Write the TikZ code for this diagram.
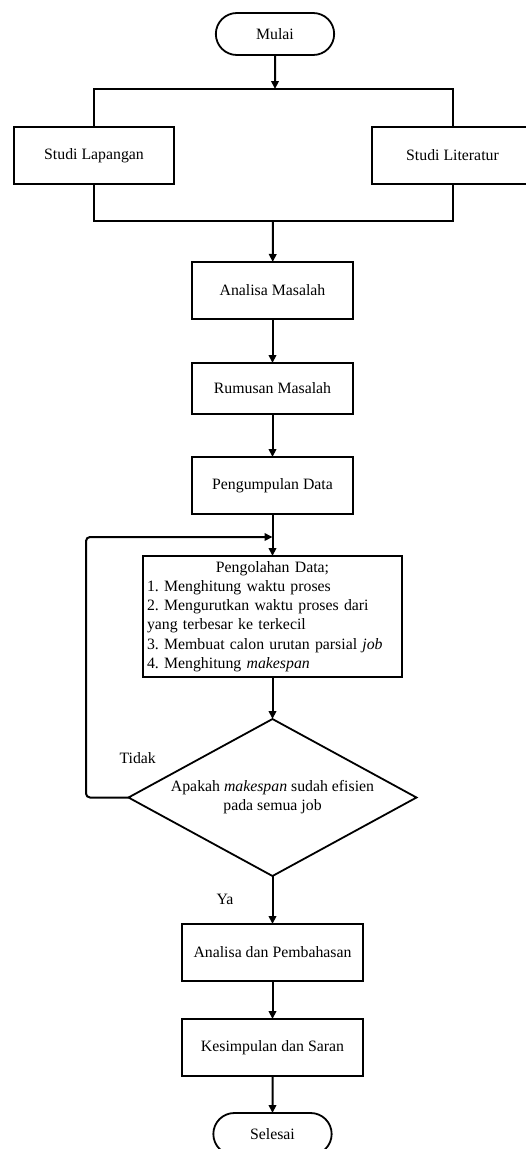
\documentclass[tikz,border=0pt]{standalone}
\usepackage{fontspec}
\setmainfont{Liberation Serif}
\usetikzlibrary{positioning,shapes,arrows.meta,calc}
\frenchspacing

\begin{document}
\begin{tikzpicture}[x=1pt,y=-1pt,>={Triangle[length=8pt,width=7.5pt]}]
\tikzset{
    every node/.style={font=\fontsize{15.8}{19.2}\selectfont},
    process/.style={rectangle, draw=black, line width=1.8pt, outer sep=0pt, minimum height=57pt, inner sep=4pt, text centered},
    terminal/.style={rounded rectangle, draw=black, line width=1.8pt, outer sep=0pt, minimum width=125pt, minimum height=42pt},
    decision/.style={diamond, draw=black, line width=1.8pt, outer sep=0pt, aspect=1.834, inner sep=0pt, minimum width=288pt, minimum height=157pt, align=center},
    line/.style={line width=2pt}
}
\useasboundingbox (0,0) rectangle (525,1149);

\node[terminal] (mulai) at (275,34) {Mulai};
\node[process, minimum width=160pt] (lapangan) at (94,155.5) {Studi Lapangan};
\node[process, minimum width=161pt] (literatur) at (452.5,155.5) {Studi Literatur};
\node[process, minimum width=161pt] (analisa) at (272.5,290.5) {Analisa Masalah};
\node[process, minimum width=161pt, minimum height=51pt, below=44pt of analisa] (rumusan) {Rumusan Masalah};
\node[process, minimum width=161pt, below=43pt of rumusan] (pengumpulan) {Pengumpulan Data};
\node[process, text width=251pt, minimum height=121pt, inner ysep=2pt, align=left, below=42pt of pengumpulan] (pengolahan) {\makebox[251pt][c]{Pengolahan Data;}\\
1. Menghitung waktu proses\\
2. Mengurutkan waktu proses dari\\
yang terbesar ke terkecil\\
3. Membuat calon urutan parsial \textit{job}\\
4. Menghitung \textit{makespan}};
\node[decision, below=42pt of pengolahan] (keputusan) {Apakah \textit{makespan} sudah efisien\\pada semua job};
\node[process, minimum width=181pt, below=48pt of keputusan] (pembahasan) {Analisa dan Pembahasan};
\node[process, minimum width=181pt, below=38pt of pembahasan] (kesimpulan) {Kesimpulan dan Saran};
\node[terminal, below=37pt of kesimpulan] (selesai) {Selesai};

\node[anchor=west] (tidak) at (116,758) {Tidak};
\node[anchor=west] (ya) at (213,899) {Ya};

\coordinate (cabang) at (275,89);
\coordinate (gabung) at (273,221);
\coordinate (kiri) at (86,537);
\coordinate (masuk) at (272.5,537);

\draw[line,->] (mulai) -- (cabang);
\draw[line] (lapangan.north) |- (literatur.north |- cabang) -- (literatur.north);
\draw[line] (lapangan.south) |- (literatur.south |- gabung) -- (literatur.south);
\draw[line,->] (gabung) -- (analisa);
\draw[line,->] (analisa) -- (rumusan);
\draw[line,->] (rumusan) -- (pengumpulan);
\draw[line,->] (pengumpulan) -- (pengolahan);
\draw[line,->] (pengolahan) -- (keputusan);
\draw[line,->,rounded corners=4pt] (keputusan.west) -- (keputusan.west -| kiri) -- (kiri) -- (masuk);
\draw[line,->] (keputusan) -- (pembahasan);
\draw[line,->] (pembahasan) -- (kesimpulan);
\draw[line,->] (kesimpulan) -- (selesai);
\end{tikzpicture}
\end{document}
